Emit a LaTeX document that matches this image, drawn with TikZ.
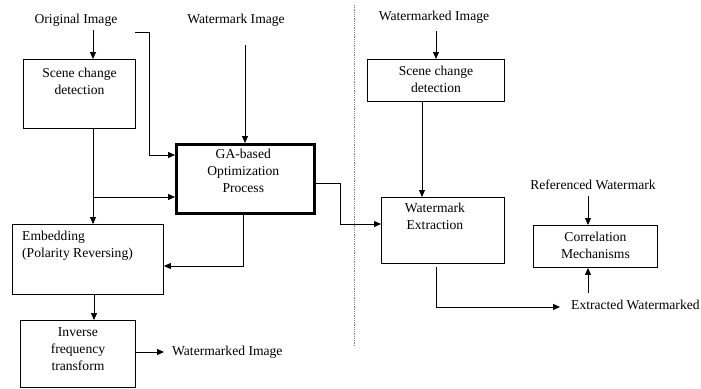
\documentclass[tikz,border=0pt]{standalone}
\usepackage{fontspec}
\setmainfont{Liberation Serif}
\usetikzlibrary{arrows.meta}
\begin{document}
\begin{tikzpicture}[x=1pt,y=-1pt,
  box/.style={draw, line width=0.9pt, inner sep=0pt, anchor=north west},
  txt/.style={font=\fontsize{13.6}{17}\selectfont, inner sep=0pt, align=center},
  arr/.style={-{Triangle[length=7pt,width=6pt]}, line width=0.9pt},
  ln/.style={line width=0.9pt}]
\useasboundingbox (0,0) rectangle (701,388);
% left part
\node[txt] (orig) at (76,20) {Original Image};
\node[txt] (wmimg) at (236,20) {Watermark Image};
\node[box, minimum width=112pt, minimum height=69pt] (scene) at (23,59) {};
\node[txt, anchor=north] (scenet) at ([yshift=-9pt]scene.north) {Scene change\\detection};
\node[box, minimum width=138pt, minimum height=69pt, line width=2.6pt] (ga) at (175,143) {};
\node[txt, anchor=north] (gat) at ([xshift=-2pt,yshift=-6pt]ga.north) {GA-based\\Optimization\\Process};
\node[box, minimum width=151pt, minimum height=70pt] (emb) at (12,224) {};
\node[txt, anchor=north west, align=left] (embt) at (22,231) {Embedding\\(Polarity Reversing)};
\node[box, minimum width=115pt, minimum height=67pt] (inv) at (20,320) {};
\node[txt, anchor=north] (invt) at ([xshift=0pt,yshift=-7pt]inv.north) {Inverse\\frequency\\transform};
\node[txt, anchor=west] (wmout) at (172,352) {Watermarked Image};
\coordinate (c1) at (135,32);
\coordinate (c2) at (149,32);
\draw[arr] (93,30) -- (scene.north -| 93,0);
\draw[arr] (c1) -- (c2) -- (c2 |- 0,155) -- (ga.west |- 0,155);
\draw[arr] (245,45) -- (ga.north -| 245,0);
\draw[arr] (scene.south -| 93,0) -- (emb.north -| 93,0);
\draw[arr] (93,197) -- (ga.west |- 0,197);
\draw[arr] (ga.south -| 243,0) -- (243,266) -- (emb.east |- 0,266);
\draw[arr] (emb.south -| 94,0) -- (inv.north -| 94,0);
\draw[arr] (inv.east |- 0,352) -- (164,352);
% divider
\draw[densely dotted, line width=0.8pt, gray] (354,5) -- (354,347);
% right part
\node[txt] (wmd) at (434,17) {Watermarked Image};
\node[box, minimum width=137pt, minimum height=42pt] (scene2) at (367,59) {};
\node[txt, anchor=north] (scene2t) at ([yshift=-7pt]scene2.north) {Scene change\\detection};
\node[box, minimum width=123pt, minimum height=66pt] (ext) at (381,197) {};
\node[txt, anchor=north] (extt) at ([xshift=-8pt,yshift=-6pt]ext.north) {Watermark\\Extraction};
\node[txt] (ref) at (593,185) {Referenced Watermark};
\node[box, minimum width=124pt, minimum height=42pt] (corr) at (533,225) {};
\node[txt, anchor=north] (corrt) at ([yshift=-7pt]corr.north) {Correlation\\Mechanisms};
\node[txt, anchor=west] (extw) at (571,305) {Extracted Watermarked};
\coordinate (g1) at (340,183);
\draw[arr] (ga.east |- g1) -- (g1) -- (340,224) -- (ext.west |- 0,224);
\draw[arr] (436,31) -- (scene2.north -| 436,0);
\draw[arr] (scene2.south -| 422,0) -- (ext.north -| 422,0);
\draw[arr] (ext.south -| 436,0) ++(0,3) -- (436,307) -- (560,307);
\draw[arr] (588,196) -- (corr.north -| 588,0);
\draw[arr] (588,293) -- (corr.south -| 588,0);
\end{tikzpicture}
\end{document}
